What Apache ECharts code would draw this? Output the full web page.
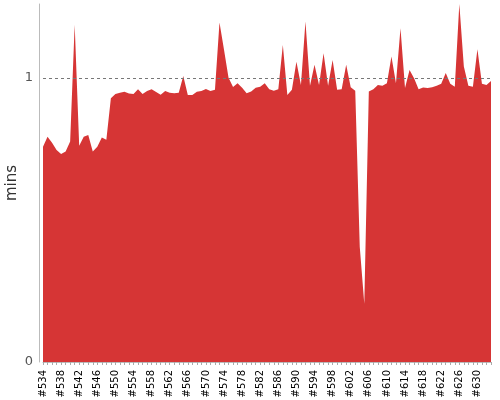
<!DOCTYPE html>
<html><head><meta charset="utf-8">
<script src="https://cdn.jsdelivr.net/npm/echarts@6/dist/echarts.min.js"></script>
<style>html,body{margin:0;padding:0;background:#fff}#c{width:500px;height:400px}</style>
</head><body><div id="c"></div>
<script>
const categories = [];
for (let n = 534; n <= 633; n++) categories.push('#' + n);
const minutes = [
 0.758,0.793,0.772,0.746,0.732,0.741,0.776,1.187,0.761,0.793,
 0.799,0.741,0.758,0.790,0.782,0.928,0.943,0.948,0.951,0.945,
 0.943,0.960,0.943,0.954,0.960,0.950,0.941,0.954,0.948,0.946,
 0.948,1.007,0.940,0.940,0.951,0.954,0.961,0.954,0.958,1.195,
 1.099,1.000,0.968,0.981,0.965,0.946,0.952,0.965,0.969,0.981,
 0.960,0.955,0.960,1.116,0.940,0.958,1.057,0.975,1.198,0.972,
 1.046,0.975,1.087,0.972,1.063,0.958,0.960,1.046,0.967,0.955,
 0.405,0.205,0.952,0.960,0.975,0.972,0.981,1.075,0.981,1.175,
 0.964,1.028,0.999,0.960,0.966,0.964,0.967,0.972,0.979,1.017,
 0.979,0.969,1.260,1.040,0.972,0.969,1.101,0.979,0.975,0.989
];
const referenceLine = 1;
const yTicks = [0, 1];

const chart = echarts.init(document.getElementById('c'), null, {renderer: 'canvas'});
chart.setOption({
  animation: false,
  grid: {left: 43, right: 9, top: 4, bottom: 38, containLabel: false, outerBoundsMode: 'none'},
  xAxis: {
    type: 'category', data: categories, boundaryGap: false, offset: 1,
    axisLine: {lineStyle: {color: '#bbb', width: 1}},
    axisTick: {interval: 0, length: 3, lineStyle: {color: '#aaa'}},
    axisLabel: {interval: 3, rotate: 90, margin: 7, color: '#000',
      fontFamily: 'DejaVu Sans', fontSize: 10}
  },
  yAxis: {
    type: 'value', min: 0, max: 'dataMax', interval: 1, offset: 4,
    name: 'mins', nameLocation: 'middle', nameGap: 19, nameMoveOverlap: false,
    nameTextStyle: {fontFamily: 'DejaVu Sans', fontSize: 15, color: '#333'},
    axisLine: {show: true, lineStyle: {color: '#bbb', width: 1}},
    axisTick: {show: false},
    splitLine: {show: false},
    axisLabel: {color: '#555', fontFamily: 'DejaVu Sans', fontSize: 13, margin: 6,
      showMaxLabel: false,
      formatter: v => yTicks.indexOf(v) >= 0 ? String(v) : ''}
  },
  series: [{
    type: 'line', data: minutes, symbol: 'none', smooth: false,
    lineStyle: {width: 0, color: '#d63535'},
    itemStyle: {color: '#d63535'},
    areaStyle: {color: '#d63535', opacity: 1},
    markLine: {
      silent: true, symbol: 'none', label: {show: false},
      lineStyle: {type: [3, 3], color: '#777', width: 1},
      data: [{yAxis: referenceLine}]
    }
  }]
});
</script></body></html>
